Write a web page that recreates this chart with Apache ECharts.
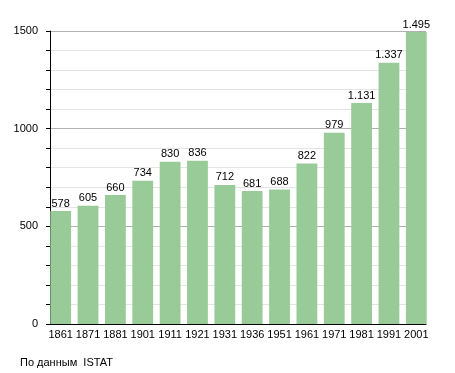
<!DOCTYPE html>
<html><head><meta charset="utf-8">
<script src="https://cdn.jsdelivr.net/npm/echarts@6/dist/echarts.min.js"></script>
<style>html,body{margin:0;padding:0;background:#fff}#c{width:455px;height:373px}</style>
</head><body><div id="c"></div>
<script>
var years = ['1861','1871','1881','1901','1911','1921','1931','1936','1951','1961','1971','1981','1991','2001'];
var population = [578,605,660,734,830,836,712,681,688,822,979,1131,1337,1495];
var source = 'По данным  ISTAT';

function fmt(v){ var s=String(v); return s.length>3 ? s.slice(0,s.length-3)+'.'+s.slice(-3) : s; }
var FONT = 'Liberation Sans, Arial, sans-serif';

var chart = echarts.init(document.getElementById('c'));
chart.setOption({
  animation:false,
  textStyle:{fontFamily:FONT},
  grid:[
    {left:47,right:25,top:31,bottom:49},
    {left:50,right:29,top:31,bottom:49}
  ],
  graphic:[{type:'text',left:20,top:357,style:{text:source,fontSize:11,fill:'#000',fontFamily:FONT}}],
  xAxis:[
    {type:'category',data:years,gridIndex:0,
      axisLine:{show:false},axisTick:{show:false},
      axisLabel:{color:'#000',fontSize:11,margin:5,interval:0}},
    {type:'value',gridIndex:1,min:0,max:1,
      axisLine:{show:true,onZero:false,lineStyle:{color:'#000',width:1}},
      axisTick:{show:false},axisLabel:{show:false},splitLine:{show:false}}
  ],
  yAxis:[
    {type:'value',gridIndex:0,min:0,max:1500,show:false,splitLine:{show:false}},
    {type:'value',gridIndex:1,min:0,max:1500,interval:100,
      axisLine:{show:true,lineStyle:{color:'#000',width:1}},
      axisTick:{show:true,length:4,lineStyle:{color:'#000'}},
      axisLabel:{color:'#000',fontSize:11,margin:12,formatter:function(v){return v%500===0?String(v):'';}},
      splitLine:{lineStyle:{color:['#b0b0b0','#e4e4e4','#e4e4e4','#e4e4e4','#e4e4e4'],width:1}}}
  ],
  series:[{type:'bar',data:population,xAxisIndex:0,yAxisIndex:0,barCategoryGap:'24%',
    itemStyle:{color:'#98cb98'},
    label:{show:true,position:'top',distance:2,color:'#000',fontSize:11,formatter:function(p){return fmt(p.value);}}}]
});
</script></body></html>
